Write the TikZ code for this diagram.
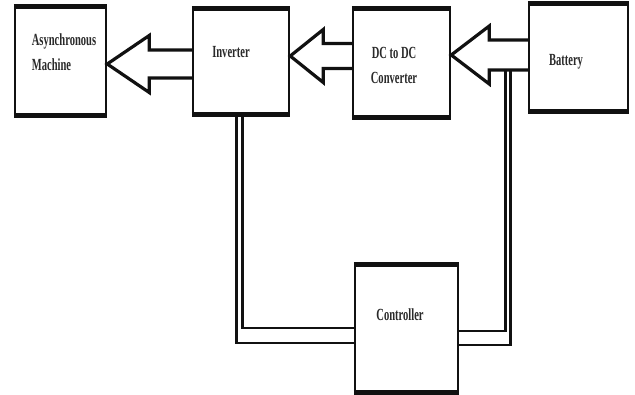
\documentclass[tikz,border=0pt]{standalone}
\usepackage{fontspec}
\setmainfont{Liberation Serif}[FakeStretch=0.62]
\usetikzlibrary{calc}
\definecolor{ink}{HTML}{111111}
\definecolor{grey}{HTML}{2A2A2A}

% hollow block arrow: from, to, axis y, shaft half width, head half width, head length
\newcommand{\fatarrow}[6]{%
\draw[fat] ($(#1.west |- 0,#3)+(0,-#4)$) -- ($(#2.east |- 0,#3)+(#6,-#4)$) -- ($(#2.east |- 0,#3)+(#6,-#5)$) -- (#2.east |- 0,#3) -- ($(#2.east |- 0,#3)+(#6,#5)$) -- ($(#2.east |- 0,#3)+(#6,#4)$) -- ($(#1.west |- 0,#3)+(0,#4)$);}

\begin{document}
\begin{tikzpicture}[x=1pt,y=-1pt,line width=2.5pt,every node/.style={font=\fontsize{17}{25}\selectfont\bfseries,text=grey},box/.style={draw=ink,inner sep=0pt},txt/.style={align=center},fat/.style={draw=ink,line width=3.2pt,line join=miter},wire/.style={draw=ink,line width=2.6pt}]
\path[use as bounding box,fill=white] (0,0) rectangle (635,394);

\node[box,minimum width=91,minimum height=106,label={[txt,align=left,xshift=3.5pt,yshift=8.5pt]center:Asynchronous\\Machine}] (mach) at (60.5,61) {};
\node[box,minimum width=96,minimum height=103,label={[txt,xshift=-10pt,yshift=9.5pt]center:Inverter}] (inv) at (241,61.5) {};
\node[box,minimum width=97,minimum height=106,label={[txt,xshift=-7.5pt,yshift=-2.5pt]center:DC to DC\\Converter}] (dcdc) at (401.5,63) {};
\node[box,minimum width=99,minimum height=105,label={[txt,xshift=-12.5pt,yshift=-4.5pt]center:Battery}] (batt) at (578.5,57.5) {};
\node[box,minimum width=103,minimum height=125,label={[txt,xshift=-6.5pt,yshift=13.5pt]center:Controller}] (ctrl) at (406.5,328.5) {};
\foreach \n in {mach,inv,dcdc,batt,ctrl}
  \draw[ink,line width=5pt] (\n.north west) -- (\n.north east) (\n.south west) -- (\n.south east);

% power flow
\fatarrow{inv}{mach}{64}{14}{28.5}{42}
\fatarrow{dcdc}{inv}{56}{12.5}{26.5}{33}
\fatarrow{batt}{dcdc}{55}{15}{29}{38}

% control lines
\coordinate (tap) at ($(batt.west |- 0,55)+(-20,15)$);
\draw[wire] ($(inv.south)+(-4.5,0)$) |- ($(ctrl.west)+(0,14.5)$);
\draw[wire] ($(inv.south)+(1.5,0)$) |- ($(ctrl.west)+(0,-0.5)$);
\draw[wire] ($(tap)+(-2,0)$) |- ($(ctrl.east)+(0,2.5)$);
\draw[wire] ($(tap)+(2.5,0)$) |- ($(ctrl.east)+(0,16.5)$);

\end{tikzpicture}
\end{document}
